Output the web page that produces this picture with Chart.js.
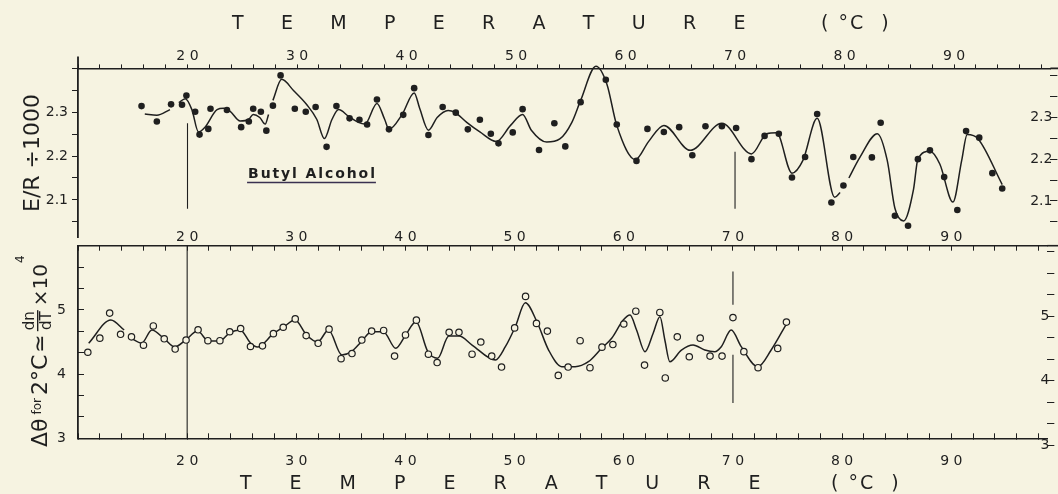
<!DOCTYPE html>
<html>
<head>
<meta charset="utf-8">
<script src="https://cdn.jsdelivr.net/npm/chart.js@4.4.1/dist/chart.umd.min.js"></script>
<style>
  html, body { margin: 0; padding: 0; background: #f6f3e1; overflow: hidden; }
  #wrap { position: relative; width: 1058px; height: 494px; }
  .box { position: absolute; left: 0; width: 1058px; }
  #topBox { top: 0; height: 250px; }
  #botBox { top: 200px; height: 294px; }
</style>
</head>
<body>
<div id="wrap">
  <div class="box" id="topBox"><canvas id="erChart"></canvas></div>
  <div class="box" id="botBox"><canvas id="dnChart"></canvas></div>
</div>
<script>
const ink = '#1f1f1f';
const paper = '#f6f3e1';

// labelled ticks
const tempLabels = [20, 30, 40, 50, 60, 70, 80, 90];
const erLabels = [2.1, 2.2, 2.3];
const dnLabels = [3, 4, 5];

// E/R / 1000 - measured points (filled dots)
const erTemp = [15.8, 17.2, 18.5, 19.5, 19.9, 20.7, 21.1, 21.9, 22.1, 23.6,
  24.9, 25.6, 26.0, 26.7, 27.2, 27.8, 28.5, 29.8, 30.8, 31.7,
  32.7, 33.6, 34.8, 35.7, 36.4, 37.3, 38.4, 39.7, 40.7, 42.0,
  43.3, 44.5, 45.6, 46.7, 47.7, 48.4, 49.7, 50.6, 52.1, 53.5,
  54.5, 55.9, 57.2, 58.2, 59.2, 61.0, 62.0, 63.5, 64.9, 66.1,
  67.3, 68.8, 70.1, 71.5, 72.7, 74.0, 75.2, 76.4, 77.5, 78.8,
  79.9, 80.8, 82.5, 83.3, 84.6, 85.8, 86.7, 87.8, 89.1, 90.3,
  91.1, 92.3, 93.5, 94.4];
const erValue = [2.314, 2.279, 2.318, 2.317, 2.338, 2.301, 2.249, 2.262, 2.308, 2.305,
  2.266, 2.279, 2.308, 2.301, 2.258, 2.315, 2.384, 2.308, 2.301, 2.312,
  2.221, 2.314, 2.286, 2.283, 2.272, 2.329, 2.261, 2.294, 2.355, 2.248,
  2.312, 2.299, 2.261, 2.283, 2.251, 2.229, 2.254, 2.307, 2.214, 2.275,
  2.222, 2.323, 2.415, 2.374, 2.272, 2.189, 2.262, 2.255, 2.266, 2.202,
  2.268, 2.268, 2.264, 2.193, 2.246, 2.251, 2.151, 2.198, 2.296, 2.094,
  2.133, 2.198, 2.197, 2.276, 2.064, 2.041, 2.193, 2.213, 2.152, 2.077,
  2.257, 2.242, 2.161, 2.126];

// hand drawn curve through the E/R points (null = break in the pen line)
const erCurveTemp = [16.1, 17.2, 18.4, 18.8, 19.2, 19.8, 20.4, 21.0, 21.6, 22.7,
  23.3, 23.9, 24.8, 25.6, 26.0, 26.6, 27.1, 27.4, 27.6, 27.8,
  28.6, 29.7, 30.9, 31.8, 32.5, 33.2, 33.8, 34.7, 35.6, 36.2,
  37.3, 38.0, 38.4, 39.6, 40.7, 41.2, 42.0, 42.8, 43.8, 44.4,
  45.5, 46.7, 48.2, 49.5, 50.6, 51.4, 52.8, 54.0, 55.1, 55.9,
  57.3, 58.3, 59.2, 60.9, 62.1, 63.5, 65.9, 68.8, 71.5, 72.9,
  73.8, 75.2, 76.2, 77.5, 79.1, 79.6, 80.0, 80.4, 81.4, 83.0,
  83.9, 84.6, 85.4, 86.3, 86.7, 87.8, 88.7, 89.9, 90.7, 91.2,
  92.2, 94.4];
const erCurveValue = [2.296, 2.293, 2.306, null, 2.322, 2.331, 2.306, 2.255, 2.266, 2.306,
  2.309, 2.302, 2.280, 2.284, 2.295, 2.288, 2.273, 2.295, null, 2.327,
  2.375, 2.349, 2.317, 2.284, 2.240, 2.284, 2.306, 2.291, 2.277, 2.273,
  2.320, 2.284, 2.261, 2.295, 2.344, 2.309, 2.259, 2.288, 2.304, 2.300,
  2.277, 2.255, 2.233, 2.270, 2.295, 2.259, 2.232, 2.239, 2.277, 2.327,
  2.405, 2.364, 2.270, 2.192, 2.233, 2.270, 2.213, 2.275, 2.205, 2.251,
  2.253, 2.161, 2.190, 2.286, 2.106, 2.117, null, 2.150, 2.197, 2.251,
  2.190, 2.081, 2.052, 2.124, 2.193, 2.211, 2.182, 2.095, 2.190, 2.249,
  2.239, 2.135];

// vertical marker strokes in the upper panel
const erMarkTemp = [20, 70];
const erMarkLow = [2.08, 2.08];
const erMarkHigh = [2.275, 2.21];

// d-theta for 2 degC - measured points (open circles)
const dnTemp = [10.9, 12.0, 12.9, 13.9, 14.9, 16.0, 16.9, 17.9, 18.9, 19.9,
  21.0, 21.9, 23.0, 23.9, 24.9, 25.8, 26.9, 27.9, 28.8, 29.9,
  30.9, 32.0, 33.0, 34.1, 35.1, 36.0, 36.9, 38.0, 39.0, 40.0,
  41.0, 42.1, 42.9, 44.0, 44.9, 46.1, 46.9, 47.9, 48.8, 50.0,
  51.0, 52.0, 53.0, 54.0, 54.9, 56.0, 56.9, 58.0, 59.0, 60.0,
  61.1, 61.9, 63.3, 63.8, 64.9, 66.0, 67.0, 67.9, 69.0, 70.0,
  71.0, 72.3, 74.1, 74.9];
const dnValue = [4.34, 4.56, 4.95, 4.62, 4.58, 4.45, 4.75, 4.55, 4.39, 4.53,
  4.69, 4.52, 4.52, 4.66, 4.71, 4.43, 4.44, 4.63, 4.73, 4.86,
  4.60, 4.48, 4.70, 4.24, 4.32, 4.53, 4.67, 4.68, 4.28, 4.61,
  4.84, 4.31, 4.18, 4.65, 4.65, 4.31, 4.50, 4.28, 4.11, 4.72,
  5.21, 4.79, 4.67, 3.98, 4.11, 4.52, 4.10, 4.42, 4.46, 4.78,
  4.98, 4.14, 4.96, 3.94, 4.58, 4.27, 4.56, 4.28, 4.28, 4.88,
  4.35, 4.10, 4.40, 4.81];

const dnCurveTemp = [10.98, 13.01, 14.23, 14.5, 14.84, 15.84, 16.76, 17.92, 18.86, 19.86,
  20.96, 21.94, 22.97, 23.88, 24.86, 25.80, 26.44, 27.87, 28.84, 29.88,
  30.94, 31.95, 32.95, 34.17, 35.05, 35.96, 36.88, 37.97, 39.11, 40.02,
  40.96, 42.05, 42.94, 43.97, 44.91, 46.10, 48.24, 49.15, 50.06, 50.98,
  52.04, 53.11, 54.32, 55.54, 56.76, 57.97, 58.89, 59.95, 60.57, 61.17,
  61.94, 62.69, 63.31, 63.76, 64.22, 65.28, 66.35, 67.42, 68.33, 68.93,
  69.84, 70.76, 72.28, 73.50, 74.93];
const dnCurveValue = [4.480, 4.843, 4.687, null, 4.562, 4.484, 4.687, 4.547, 4.422, 4.531,
  4.671, 4.516, 4.516, 4.640, 4.687, 4.484, 4.422, 4.625, 4.734, 4.843,
  4.609, 4.500, 4.687, 4.298, 4.349, 4.505, 4.660, 4.660, 4.402, 4.609,
  4.816, 4.349, 4.246, 4.593, 4.593, 4.453, 4.220, 4.427, 4.738, 5.112,
  4.816, 4.375, 4.115, 4.115, 4.193, 4.402, 4.558, 4.843, 4.921, 4.687,
  4.349, 4.636, 4.894, 4.531, 4.193, 4.375, 4.453, 4.375, 4.349, 4.427,
  4.687, 4.427, 4.115, 4.375, 4.791];

const dnMarkTemp = [20, 70, 70];
const dnMarkLow = [3, 3.55, 5.08];
const dnMarkHigh = [6, 4.3, 5.6];

Chart.defaults.font.family = '"DejaVu Sans", sans-serif';
Chart.defaults.color = ink;

const pairs = (xs, ys) => xs.map((x, i) => ({x, y: ys[i]}));
const strokes = (xs, lo, hi) => xs.flatMap((x, i) => [{x, y: lo[i]}, {x, y: hi[i]}, {x, y: null}]);
const near = (list, v) => list.some(l => Math.abs(l - v) < 1e-6);
const spaced = v => String(v).split('').join(' ');

function stepTicks(from, to, step) {
  const out = [];
  for (let i = 0; from + i * step <= to + 1e-9; i++) out.push({value: from + i * step});
  return out;
}

function spacedText(ctx, text, x, y, gap) {
  for (const ch of text) {
    ctx.fillText(ch, x, y);
    x += ctx.measureText(ch).width + gap;
  }
  return x - gap;
}

const tickFont = {size: 14};

function tempAxis(position, tickLength, padding, height) {
  return {
    type: 'linear', position, min: 10, max: 98.8,
    afterBuildTicks: s => { s.ticks = stepTicks(10, 98, 2); },
    afterFit: s => { s.height = height; },
    grid: {drawOnChartArea: false, drawTicks: true, tickLength, color: ink, lineWidth: 1},
    border: {display: true, color: ink, width: 1.6},
    ticks: {autoSkip: false, maxRotation: 0, padding, font: tickFont,
      callback: v => tempLabels.includes(v) ? spaced(v) : ''}
  };
}

function valueAxis(position, min, max, ticks, labels, tickLength, padding, width, extra) {
  return Object.assign({
    type: 'linear', position, min, max,
    afterBuildTicks: s => { s.ticks = ticks; },
    afterFit: s => { s.width = width; },
    grid: {drawOnChartArea: false, drawTicks: true, tickLength, color: ink, lineWidth: 1},
    border: {display: position === 'left', color: ink, width: 1.8},
    ticks: {autoSkip: false, padding, mirror: position === 'right', font: tickFont,
      callback: v => near(labels, v) ? (Number.isInteger(v) ? String(v) : v.toFixed(1)) : ''}
  }, extra || {});
}

const erTicks = stepTicks(2.05, 2.4, 0.05);
const dnTicks = stepTicks(3, 6, 1 / 3);

const erText = {
  id: 'erText',
  afterDraw(chart) {
    const {ctx, chartArea, scales} = chart;
    ctx.save();
    ctx.fillStyle = ink;
    ctx.textBaseline = 'alphabetic';
    ctx.textAlign = 'left';
    ctx.font = '19px "DejaVu Sans"';
    spacedText(ctx, 'TEMPERATURE', 232, 29, 37.3);
    spacedText(ctx, '( °C  )', 821, 29, 2);

    ctx.font = 'bold 14px "DejaVu Sans"';
    const lx = scales.x.getPixelForValue(25.53);
    const ly = scales.y.getPixelForValue(2.15);
    const end = spacedText(ctx, 'Butyl Alcohol', lx, ly, 1.9);
    ctx.strokeStyle = '#3a3050';
    ctx.lineWidth = 1.3;
    ctx.beginPath();
    ctx.moveTo(lx - 1, ly + 4.5);
    ctx.lineTo(end + 1, ly + 4.5);
    ctx.stroke();

    // axis ends that run past the plot frame
    ctx.strokeStyle = ink;
    ctx.lineWidth = 1.8;
    ctx.beginPath();
    ctx.moveTo(chartArea.left, chartArea.top - 12);
    ctx.lineTo(chartArea.left, chartArea.top);
    ctx.moveTo(chartArea.right, chartArea.top);
    ctx.lineTo(chart.width, chartArea.top);
    ctx.stroke();
    ctx.restore();
  }
};

const dnText = {
  id: 'dnText',
  afterDraw(chart) {
    const {ctx, chartArea} = chart;
    const top = 200;
    ctx.save();
    ctx.fillStyle = ink;
    ctx.textBaseline = 'alphabetic';
    ctx.textAlign = 'left';
    ctx.font = '19px "DejaVu Sans"';
    spacedText(ctx, 'TEMPERATURE', 240, 489 - top, 38);
    spacedText(ctx, '( °C  )', 831, 489 - top, 2);

    ctx.strokeStyle = ink;
    ctx.lineWidth = 1.6;
    ctx.beginPath();
    ctx.moveTo(chartArea.right, chartArea.top);
    ctx.lineTo(chart.width, chartArea.top);
    ctx.stroke();

    // rotated axis title with its small fraction
    ctx.translate(47, 447 - top);
    ctx.rotate(-Math.PI / 2);
    let x = 0;
    const part = (txt, font, dy, gap) => {
      ctx.font = font;
      ctx.fillText(txt, x, dy);
      x += ctx.measureText(txt).width + gap;
    };
    part('Δθ', '22px "DejaVu Sans"', 0, 4);
    part('for', '12px "DejaVu Sans"', -6, 3);
    part('2°C', '22px "DejaVu Sans"', 0, 2);
    part('≃', '22px "DejaVu Sans"', 0, 3);
    ctx.font = '15px "DejaVu Sans"';
    const wn = ctx.measureText('dn').width;
    const wd = ctx.measureText('dT').width;
    const wf = Math.max(wn, wd) + 2;
    ctx.fillText('dn', x + (wf - wn) / 2, -13);
    ctx.fillText('dT', x + (wf - wd) / 2, 4);
    ctx.fillRect(x, -10, wf, 1.4);
    x += wf + 4;
    part('×10', '20px "DejaVu Sans"', 0, 1);
    part('4', '12px "DejaVu Sans"', -23, 0);
    ctx.restore();
  }
};

const common = {
  responsive: true,
  maintainAspectRatio: false,
  animation: false,
  events: [],
  plugins: {legend: {display: false}, tooltip: {enabled: false}}
};

new Chart(document.getElementById('erChart').getContext('2d'), {
  type: 'line',
  data: {
    datasets: [
      {data: pairs(erTemp, erValue), showLine: false, pointRadius: 3.3,
        pointBackgroundColor: ink, pointBorderWidth: 0, clip: false, order: 0},
      {data: pairs(erCurveTemp, erCurveValue), borderColor: ink, borderWidth: 1.5,
        pointRadius: 0, cubicInterpolationMode: 'monotone', spanGaps: false, clip: false, order: 1},
      {data: strokes(erMarkTemp, erMarkLow, erMarkHigh), borderColor: ink, borderWidth: 1.1,
        pointRadius: 0, tension: 0, spanGaps: false, order: 2}
    ]
  },
  options: Object.assign({}, common, {
    layout: {padding: {top: 0, left: 0, right: 0, bottom: 4.5}},
    scales: {
      x: tempAxis('top', 4, 0, 68.4),
      y: valueAxis('left', 2.014, 2.4, erTicks, erLabels, 6, 4, 78, {
        title: {display: true, text: 'E/R ÷1000', font: {size: 22}, padding: {top: 20, bottom: 0}}
      }),
      y2: valueAxis('right', 2.012, 2.418, erTicks, erLabels, 7, 2, 7.6)
    }
  }),
  plugins: [erText]
});

new Chart(document.getElementById('dnChart').getContext('2d'), {
  type: 'line',
  data: {
    datasets: [
      {data: pairs(dnTemp, dnValue), showLine: false, pointRadius: 3.2,
        pointBackgroundColor: paper, pointBorderColor: ink, pointBorderWidth: 1.2, clip: false, order: 0},
      {data: pairs(dnCurveTemp, dnCurveValue), borderColor: ink, borderWidth: 1.5,
        pointRadius: 0, cubicInterpolationMode: 'monotone', spanGaps: false, order: 1},
      {data: strokes(dnMarkTemp, dnMarkLow, dnMarkHigh), borderColor: ink, borderWidth: 1.1,
        pointRadius: 0, tension: 0, spanGaps: false, order: 2}
    ]
  },
  options: Object.assign({}, common, {
    layout: {padding: 0},
    scales: {
      xt: tempAxis('top', -5, 5.3, 45.7),
      x: tempAxis('bottom', -5, 19.3, 55.7),
      y: valueAxis('left', 3, 6, dnTicks, dnLabels, -6, 18, 78),
      y2: valueAxis('right', 3.104, 6.09, dnTicks, dnLabels, 7, 2, 7.6)
    }
  }),
  plugins: [dnText]
});
</script>
</body>
</html>
